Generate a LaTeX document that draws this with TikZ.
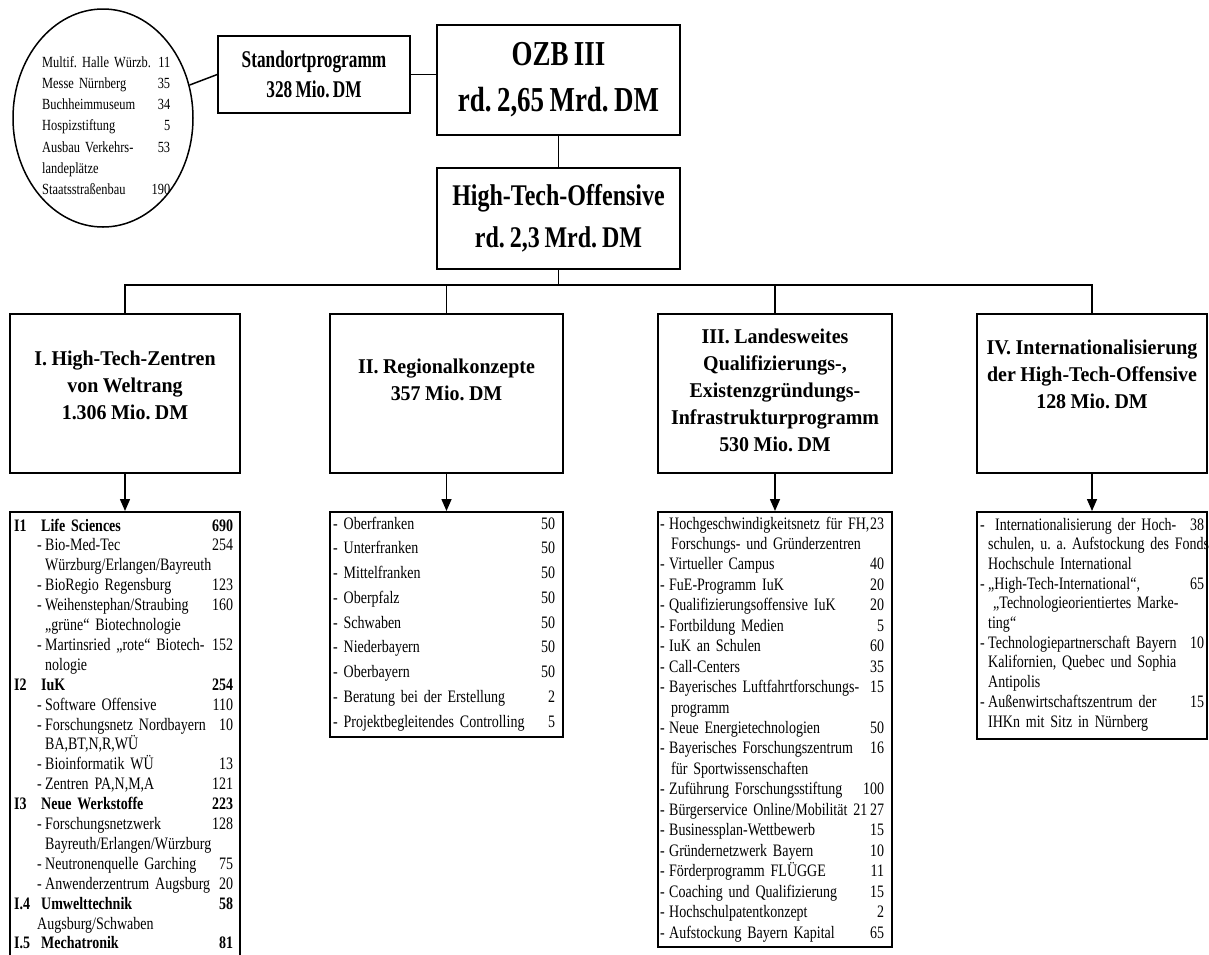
\documentclass[tikz,border=0pt]{standalone}
\usepackage{fontspec}
\setmainfont{Liberation Serif}
\newfontfamily\fL[FakeStretch=0.8,WordSpace=0.8]{Liberation Serif}
\newfontfamily\fH[FakeStretch=0.95,WordSpace=0.9]{Liberation Serif}
\newfontfamily\fO[FakeStretch=0.77,WordSpace=0.8]{Liberation Serif}
\newfontfamily\fT[FakeStretch=0.8,WordSpace=0.8]{Liberation Serif}
\newfontfamily\fS[FakeStretch=0.72,WordSpace=0.75]{Liberation Serif}
\usetikzlibrary{arrows.meta,shapes.geometric}
\newcommand\rowN[3]{\noindent\hbox to\hsize{\hspace*{#1}#2\hfill#3}\par}
\newcommand\dsh[1]{\makebox[#1][l]{-}}
\begin{document}
\frenchspacing
\begin{tikzpicture}[x=1pt,y=-1pt,
  bx/.style={draw, line width=1.5pt, rectangle, inner sep=0pt},
  ln/.style={line width=1.5pt},
  arr/.style={line width=1.5pt, -{Triangle[length=12pt,width=10pt]}},
  hd/.style={align=center, inner sep=0pt, font=\fH\bfseries\fontsize{21}{27}\selectfont},
  lst/.style={anchor=base west, inner sep=0pt, align=left}
]
\clip (0,0) rectangle (1209,954);
\fill[white] (0,0) rectangle (1209,954);

% ellipse
\node[draw, ellipse, line width=1.5pt, minimum width=180pt, minimum height=218pt, inner sep=0pt] (ell) at (103,118) {};
\node[lst, text width=128pt, font=\fL\fontsize{15.5}{21.3}\selectfont] (ellt) at (42,67) {%
\rowN{0pt}{Multif. Halle Würzb.}{11}
\rowN{0pt}{Messe Nürnberg}{35}
\rowN{0pt}{Buchheimmuseum}{34}
\rowN{0pt}{Hospizstiftung}{5}
\rowN{0pt}{Ausbau Verkehrs-}{53}
\rowN{0pt}{landeplätze}{}
\rowN{0pt}{Staatsstraßenbau}{190}};

% top boxes
\node[bx, minimum width=192pt, minimum height=77pt, align=center, font=\fS\bfseries\fontsize{24}{30}\selectfont] (std) at (314,74.5) {Standortprogramm\\328 Mio. DM};
\node[bx, minimum width=243pt, minimum height=110pt, align=center, font=\fO\bfseries\fontsize{35}{46}\selectfont] (ozb) at (558.5,80) {OZB III\\rd. 2,65 Mrd. DM};
\node[bx, minimum width=243pt, minimum height=101pt, align=center, font=\fT\bfseries\fontsize{30}{42}\selectfont] (hto) at (558.5,218.5) {High-Tech-Offensive\\rd. 2,3 Mrd. DM};

\draw[ln] (ell) -- (std.west);
\draw[ln] (std.east) -- (std.east -| ozb.west);
\draw[ln] (ozb.south) -- (hto.north);

% header boxes
\node[bx, minimum width=230pt, minimum height=159pt] (hI) at (125,393.5) {};
\node[bx, minimum width=233pt, minimum height=159pt] (hII) at (446.5,393.5) {};
\node[bx, minimum width=234pt, minimum height=159pt] (hIII) at (775,393.5) {};
\node[bx, minimum width=230pt, minimum height=159pt] (hIV) at (1092,393.5) {};

\node[hd] (tI) at (125,385) {I. High-Tech-Zentren\\von Weltrang\\1.306 Mio. DM};
\node[hd] (tII) at (446.5,380) {II. Regionalkonzepte\\357 Mio. DM};
\node[hd] (tIII) at (775,390) {III. Landesweites\\Qualifizierungs-,\\Existenzgründungs-\\Infrastrukturprogramm\\530 Mio. DM};
\node[hd] (tIV) at (1092,374) {IV. Internationalisierung\\der High-Tech-Offensive\\128 Mio. DM};

\coordinate (bus) at (0,285);
\draw[ln] (hto.south) -- (hto.south |- bus);
\draw[ln] (hI.north) -- (hI.north |- bus) -- (hIV.north |- bus) -- (hIV.north);
\draw[ln] (hII.north) -- (hII.north |- bus);
\draw[ln] (hIII.north) -- (hIII.north |- bus);

% list boxes
\node[bx, minimum width=230pt, minimum height=460pt, anchor=north] (lI) at (125,511) {};
\node[bx, minimum width=233pt, minimum height=225pt, anchor=north] (lII) at (446.5,511) {};
\node[bx, minimum width=234pt, minimum height=435pt, anchor=north] (lIII) at (775,511) {};
\node[bx, minimum width=230pt, minimum height=227pt, anchor=north] (lIV) at (1092,511) {};

\draw[arr] (hI.south) -- (lI.north);
\draw[arr] (hII.south) -- (lII.north);
\draw[arr] (hIII.south) -- (lIII.north);
\draw[arr] (hIV.south) -- (lIV.north);

\node[lst, text width=219pt, font=\fL\fontsize{17.5}{19.9}\selectfont] (lIt) at (14,531) {%
\rowN{0pt}{\bfseries\makebox[27pt][l]{I1}Life Sciences}{\bfseries 690}
\rowN{23pt}{\dsh{8pt}Bio-Med-Tec}{254}
\rowN{31pt}{Würzburg/Erlangen/Bayreuth}{}
\rowN{23pt}{\dsh{8pt}BioRegio Regensburg}{123}
\rowN{23pt}{\dsh{8pt}Weihenstephan/Straubing}{160}
\rowN{31pt}{„grüne“ Biotechnologie}{}
\rowN{23pt}{\dsh{8pt}Martinsried „rote“ Biotech-}{152}
\rowN{31pt}{nologie}{}
\rowN{0pt}{\bfseries\makebox[27pt][l]{I2}IuK}{\bfseries 254}
\rowN{23pt}{\dsh{8pt}Software Offensive}{110}
\rowN{23pt}{\dsh{8pt}Forschungsnetz Nordbayern}{10}
\rowN{31pt}{BA,BT,N,R,WÜ}{}
\rowN{23pt}{\dsh{8pt}Bioinformatik WÜ}{13}
\rowN{23pt}{\dsh{8pt}Zentren PA,N,M,A}{121}
\rowN{0pt}{\bfseries\makebox[27pt][l]{I3}Neue Werkstoffe}{\bfseries 223}
\rowN{23pt}{\dsh{8pt}Forschungsnetzwerk}{128}
\rowN{31pt}{Bayreuth/Erlangen/Würzburg}{}
\rowN{23pt}{\dsh{8pt}Neutronenquelle Garching}{75}
\rowN{23pt}{\dsh{8pt}Anwenderzentrum Augsburg}{20}
\rowN{0pt}{\bfseries\makebox[27pt][l]{I.4}Umwelttechnik}{\bfseries 58}
\rowN{23pt}{Augsburg/Schwaben}{}
\rowN{0pt}{\bfseries\makebox[27pt][l]{I.5}Mechatronik}{\bfseries 81}};

\node[lst, text width=222pt, font=\fL\fontsize{17.5}{24.75}\selectfont] (lIIt) at (333,529) {%
\rowN{0pt}{- Oberfranken}{50}
\rowN{0pt}{- Unterfranken}{50}
\rowN{0pt}{- Mittelfranken}{50}
\rowN{0pt}{- Oberpfalz}{50}
\rowN{0pt}{- Schwaben}{50}
\rowN{0pt}{- Niederbayern}{50}
\rowN{0pt}{- Oberbayern}{50}
\rowN{0pt}{- Beratung bei der Erstellung}{2}
\rowN{0pt}{- Projektbegleitendes Controlling}{5}};

\node[lst, text width=224pt, font=\fL\fontsize{17.5}{20.45}\selectfont] (lIIIt) at (660,529) {%
\rowN{0pt}{\dsh{9pt}Hochgeschwindigkeitsnetz für FH,}{23}
\rowN{11pt}{Forschungs- und Gründerzentren}{}
\rowN{0pt}{\dsh{9pt}Virtueller Campus}{40}
\rowN{0pt}{\dsh{9pt}FuE-Programm IuK}{20}
\rowN{0pt}{\dsh{9pt}Qualifizierungsoffensive IuK}{20}
\rowN{0pt}{\dsh{9pt}Fortbildung Medien}{5}
\rowN{0pt}{\dsh{9pt}IuK an Schulen}{60}
\rowN{0pt}{\dsh{9pt}Call-Centers}{35}
\rowN{0pt}{\dsh{9pt}Bayerisches Luftfahrtforschungs-}{15}
\rowN{11pt}{programm}{}
\rowN{0pt}{\dsh{9pt}Neue Energietechnologien}{50}
\rowN{0pt}{\dsh{9pt}Bayerisches Forschungszentrum}{16}
\rowN{11pt}{für Sportwissenschaften}{}
\rowN{0pt}{\dsh{9pt}Zuführung Forschungsstiftung}{100}
\rowN{0pt}{\dsh{9pt}Bürgerservice Online/Mobilität 21}{27}
\rowN{0pt}{\dsh{9pt}Businessplan-Wettbewerb}{15}
\rowN{0pt}{\dsh{9pt}Gründernetzwerk Bayern}{10}
\rowN{0pt}{\dsh{9pt}Förderprogramm FLÜGGE}{11}
\rowN{0pt}{\dsh{9pt}Coaching und Qualifizierung}{15}
\rowN{0pt}{\dsh{9pt}Hochschulpatentkonzept}{2}
\rowN{0pt}{\dsh{9pt}Aufstockung Bayern Kapital}{65}};

\node[lst, text width=224pt, font=\fL\fontsize{17.5}{19.7}\selectfont] (lIVt) at (980,530) {%
\rowN{0pt}{\dsh{15pt}Internationalisierung der Hoch-}{38}
\rowN{8pt}{schulen, u. a. Aufstockung des Fonds}{}
\rowN{8pt}{Hochschule International}{}
\rowN{0pt}{\dsh{8pt}„High-Tech-International“,}{65}
\rowN{13pt}{„Technologieorientiertes Marke-}{}
\rowN{8pt}{ting“}{}
\rowN{0pt}{\dsh{8pt}Technologiepartnerschaft Bayern}{10}
\rowN{8pt}{Kalifornien, Quebec und Sophia}{}
\rowN{8pt}{Antipolis}{}
\rowN{0pt}{\dsh{8pt}Außenwirtschaftszentrum der}{15}
\rowN{8pt}{IHKn mit Sitz in Nürnberg}{}};
\end{tikzpicture}
\end{document}
